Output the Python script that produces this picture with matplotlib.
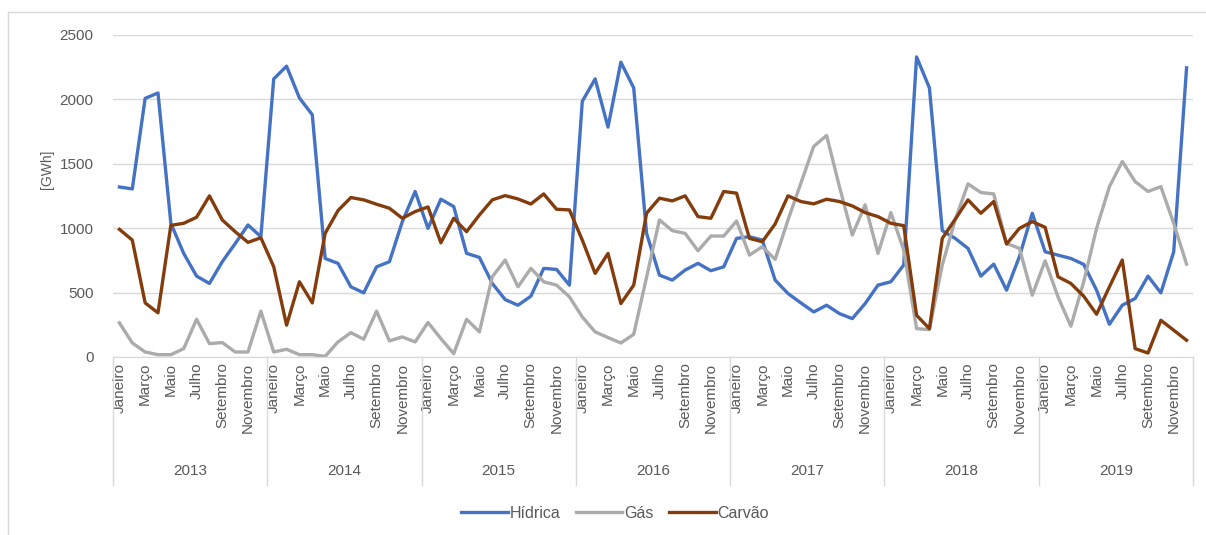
import matplotlib.pyplot as plt
from matplotlib.lines import Line2D
import numpy as np

plt.rcParams['font.family'] = ['Liberation Sans', 'DejaVu Sans']

anos = ['2013', '2014', '2015', '2016', '2017', '2018', '2019']
meses = ['Janeiro', 'Fevereiro', 'Março', 'Abril', 'Maio', 'Junho', 'Julho',
         'Agosto', 'Setembro', 'Outubro', 'Novembro', 'Dezembro']

hidrica = [1320, 1305, 2008, 2050, 1038, 804, 628, 571, 740, 880, 1025, 934,
           2159, 2258, 2011, 1881, 765, 727, 545, 498, 700, 740, 1050, 1285,
           999, 1225, 1168, 805, 773, 571, 446, 402, 472, 688, 680, 558,
           1985, 2159, 1785, 2289, 2089, 960, 636, 597, 675, 727, 670, 700,
           921, 934, 908, 597, 493, 420, 350, 402, 337, 298, 415, 558,
           584, 714, 2330, 2089, 981, 921, 843, 628, 721, 519, 780, 1116,
           817, 791, 765, 719, 519, 254, 402, 454, 628, 498, 817, 2245]

gas = [265, 109, 39, 18, 18, 65, 293, 104, 112, 39, 39, 356,
       39, 60, 18, 18, 5, 117, 189, 138, 356, 125, 156, 117,
       268, 143, 26, 293, 195, 623, 753, 545, 688, 584, 558, 467,
       311, 195, 151, 109, 176, 620, 1064, 981, 960, 825, 939, 939,
       1056, 791, 856, 758, 1064, 1349, 1635, 1720, 1323, 947, 1181, 804,
       1121, 830, 220, 213, 714, 1064, 1344, 1277, 1266, 882, 843, 480,
       747, 467, 239, 584, 999, 1323, 1518, 1362, 1285, 1323, 1038, 721]

carvao = [991, 908, 420, 343, 1022, 1038, 1085, 1251, 1064, 973, 890, 926,
          701, 247, 584, 420, 960, 1137, 1238, 1220, 1186, 1155, 1077, 1129,
          1165, 887, 1077, 973, 1103, 1220, 1253, 1227, 1188, 1266, 1147, 1142,
          908, 649, 804, 415, 558, 1116, 1233, 1212, 1251, 1090, 1077, 1285,
          1272, 921, 895, 1033, 1251, 1207, 1189, 1225, 1207, 1173, 1121, 1090,
          1038, 1020, 324, 220, 921, 1069, 1220, 1116, 1207, 877, 999, 1051,
          1007, 623, 571, 472, 332, 545, 753, 65, 31, 285, 208, 130]

txt = '#595959'
grid = '#d9d9d9'

fig = plt.figure(figsize=(12.06, 5.35), dpi=100)
ax = fig.add_axes([113 / 1206, 1 - 357 / 535, 1080 / 1206, 322 / 535])

x = np.arange(len(hidrica))
ax.plot(x, hidrica, color='#4472C4', lw=2.4, label='Hídrica', solid_joinstyle='round')
ax.plot(x, gas, color='#ABABAB', lw=2.4, label='Gás', solid_joinstyle='round')
ax.plot(x, carvao, color='#843C0C', lw=2.4, label='Carvão', solid_joinstyle='round')

ax.set_xlim(-0.5, len(x) - 0.5)
ax.set_ylim(0, 2500)
ax.set_yticks(np.arange(0, 2501, 500))
ax.yaxis.grid(True, color=grid, lw=1)
ax.set_axisbelow(True)
for s in ['top', 'right', 'left']:
    ax.spines[s].set_visible(False)
ax.spines['bottom'].set_color(grid)
ax.tick_params(axis='y', length=0, labelsize=11, labelcolor=txt, pad=14)

# month labels (odd months only)
ticks = [i for i in x if i % 2 == 0]
ax.set_xticks(ticks)
ax.set_xticklabels([meses[i % 12] for i in ticks], rotation=90, va='top')
ax.tick_params(axis='x', length=0, labelsize=11, labelcolor=txt, pad=4)

# year separators and labels
trans = ax.get_xaxis_transform()
sep_bottom = -128 / 322
for k in range(len(anos) + 1):
    ax.plot([k * 12 - 0.5] * 2, [0, sep_bottom], transform=trans, color=grid,
            lw=1, clip_on=False)
for k, a in enumerate(anos):
    ax.text(k * 12 + 5.5, -114 / 322, a, transform=trans, ha='center', va='center',
            fontsize=11, color=txt)

fig.text(47 / 1206, 1 - 169 / 535, '[GWh]', rotation=90, ha='center', va='center',
         fontsize=10, color=txt)

fig.legend(loc='center', bbox_to_anchor=(0.51, 1 - 513 / 535), ncol=3, frameon=False,
           fontsize=11.5, handlelength=2.9, handletextpad=0.1, columnspacing=1.0,
           labelcolor=txt)

# outer chart border (left and top only visible)
fig.add_artist(Line2D([8 / 1206, 8 / 1206], [0, 1 - 12 / 535], color=grid, lw=1))
fig.add_artist(Line2D([8 / 1206, 1], [1 - 12 / 535, 1 - 12 / 535], color=grid, lw=1))

fig.savefig('out.png', dpi=100)
